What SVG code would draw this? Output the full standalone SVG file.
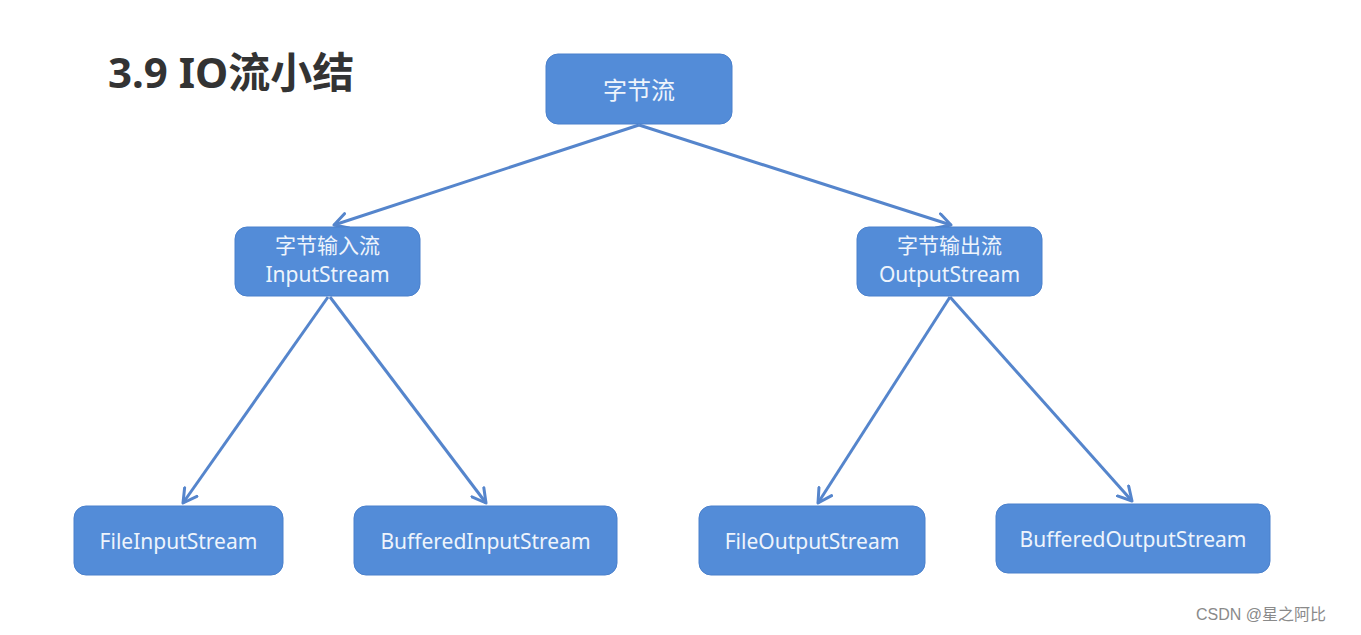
<svg xmlns="http://www.w3.org/2000/svg" width="1361" height="635" viewBox="0 0 1361 635">
<style>
.box{fill:#538cd8;stroke:#4a80cc;stroke-width:1}
.t{font-family:"Noto Sans","Noto Sans CJK SC",sans-serif;font-size:21px;fill:#eef4fc;text-anchor:middle}
.e{stroke:#5585cc;stroke-width:3;fill:none;marker-end:url(#arr)}
</style>
<defs>
<marker id="arr" viewBox="0 0 12 12" refX="10" refY="6" markerWidth="6" markerHeight="6" orient="auto" markerUnits="strokeWidth">
<path d="M1,1 L10,6 L1,11" fill="none" stroke="#5585cc" stroke-width="2" stroke-linecap="round" stroke-linejoin="round"/>
</marker>
</defs>
<rect width="1361" height="635" fill="#ffffff"/>
<text x="108" y="88" font-family="'Noto Sans','Noto Sans CJK SC',sans-serif" font-size="42" font-weight="bold" fill="#333333">3.9 IO流小结</text>
<g id="edges">
<line class="e" x1="639" y1="125" x2="334" y2="225"/>
<line class="e" x1="639" y1="125" x2="951" y2="225"/>
<line class="e" x1="328" y1="297" x2="183" y2="503"/>
<line class="e" x1="330" y1="297" x2="486" y2="503"/>
<line class="e" x1="950" y1="297" x2="818" y2="503"/>
<line class="e" x1="950" y1="297" x2="1132" y2="501"/>
</g>
<g id="n_root"><rect class="box" x="546" y="54" width="186" height="70" rx="12"/><text class="t" x="639" y="99" style="font-size:24px">字节流</text></g>
<g id="n_in"><rect class="box" x="235" y="227" width="185" height="69" rx="12"/><text class="t" x="327.5" y="253">字节输入流</text><text class="t" x="327.5" y="282">InputStream</text></g>
<g id="n_out"><rect class="box" x="857" y="227" width="185" height="69" rx="12"/><text class="t" x="949.5" y="253">字节输出流</text><text class="t" x="949.5" y="282">OutputStream</text></g>
<g id="n_fis"><rect class="box" x="74" y="506" width="209" height="69" rx="12"/><text class="t" x="178.5" y="549">FileInputStream</text></g>
<g id="n_bis"><rect class="box" x="354" y="506" width="263" height="69" rx="12"/><text class="t" x="485.5" y="549">BufferedInputStream</text></g>
<g id="n_fos"><rect class="box" x="699" y="506" width="226" height="69" rx="12"/><text class="t" x="812" y="549">FileOutputStream</text></g>
<g id="n_bos"><rect class="box" x="996" y="504" width="274" height="69" rx="12"/><text class="t" x="1133" y="547">BufferedOutputStream</text></g>
<text x="1196" y="620" font-family="'Liberation Sans','Noto Sans CJK SC',sans-serif" font-size="16" fill="#8a8a8a">CSDN @星之阿比</text>
</svg>
